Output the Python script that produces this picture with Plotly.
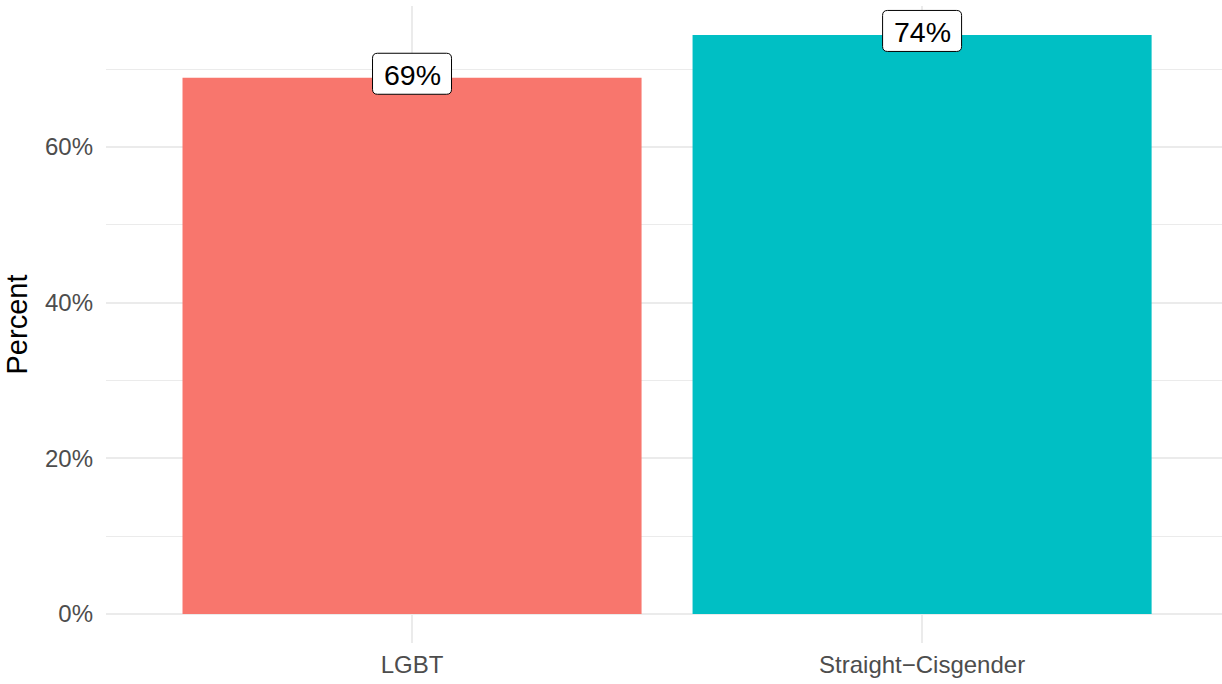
import plotly.graph_objects as go

# Share of respondents by group
groups = ["LGBT", "Straight\u2212Cisgender"]
shares = [0.689, 0.744]
bar_colors = ["#F8766D", "#00BFC4"]

y_ticks = [0, 0.2, 0.4, 0.6]
y_tick_text = ["0%", "20%", "40%", "60%"]

FONT = "Liberation Sans, Arial, sans-serif"

ymax = max(shares)
pad = ymax * 0.05

fig = go.Figure()
fig.add_trace(go.Bar(
    x=groups,
    y=shares,
    width=0.9,
    marker=dict(color=bar_colors, line=dict(width=0)),
    hoverinfo="skip",
    showlegend=False,
))

# Rounded label boxes (pixel-sized, anchored on each bar top) with value text
def rounded_box(w, h, r, cy):
    x0, x1 = -w / 2, w / 2
    y0, y1 = cy - h / 2, cy + h / 2
    return (f"M {x0 + r},{y0} L {x1 - r},{y0} Q {x1},{y0} {x1},{y0 + r} "
            f"L {x1},{y1 - r} Q {x1},{y1} {x1 - r},{y1} L {x0 + r},{y1} "
            f"Q {x0},{y1} {x0},{y1 - r} L {x0},{y0 + r} Q {x0},{y0} {x0 + r},{y0} Z")

for i, (g, v) in enumerate(zip(groups, shares)):
    fig.add_shape(
        type="path",
        xref="x", yref="y",
        xsizemode="pixel", ysizemode="pixel",
        xanchor=i, yanchor=v,
        path=rounded_box(79, 41, 5, 4),
        fillcolor="white",
        line=dict(color="black", width=1),
        layer="above",
    )
    fig.add_annotation(
        x=g, y=v,
        text=f"{round(v * 100)}%",
        showarrow=False,
        yshift=3,
        font=dict(family=FONT, size=28.5, color="black"),
    )

fig.update_layout(
    width=1222, height=684,
    margin=dict(l=106, r=0, t=6, b=41),
    plot_bgcolor="white",
    paper_bgcolor="white",
    bargap=0.1,
    font=dict(family=FONT),
    xaxis=dict(
        type="category",
        range=[-0.6, 1.588],
        showgrid=True,
        gridcolor="#EBEBEB",
        gridwidth=2,
        zeroline=False,
        showline=False,
        ticks="",
        tickfont=dict(family=FONT, size=24, color="#4D4D4D"),
        ticklabelstandoff=5,
        fixedrange=True,
    ),
    yaxis=dict(
        range=[-pad, ymax + pad],
        tickvals=y_ticks,
        ticktext=y_tick_text,
        showgrid=True,
        gridcolor="#EBEBEB",
        gridwidth=2,
        zeroline=False,
        showline=False,
        ticks="",
        tickfont=dict(family=FONT, size=24, color="#4D4D4D"),
        ticklabelstandoff=12,
        minor=dict(dtick=0.1, tick0=0, showgrid=True, gridcolor="#EBEBEB", gridwidth=1),
        title=dict(text="Percent", font=dict(family=FONT, size=29, color="black"), standoff=8),
        fixedrange=True,
    ),
)

fig.write_html("out.html")
